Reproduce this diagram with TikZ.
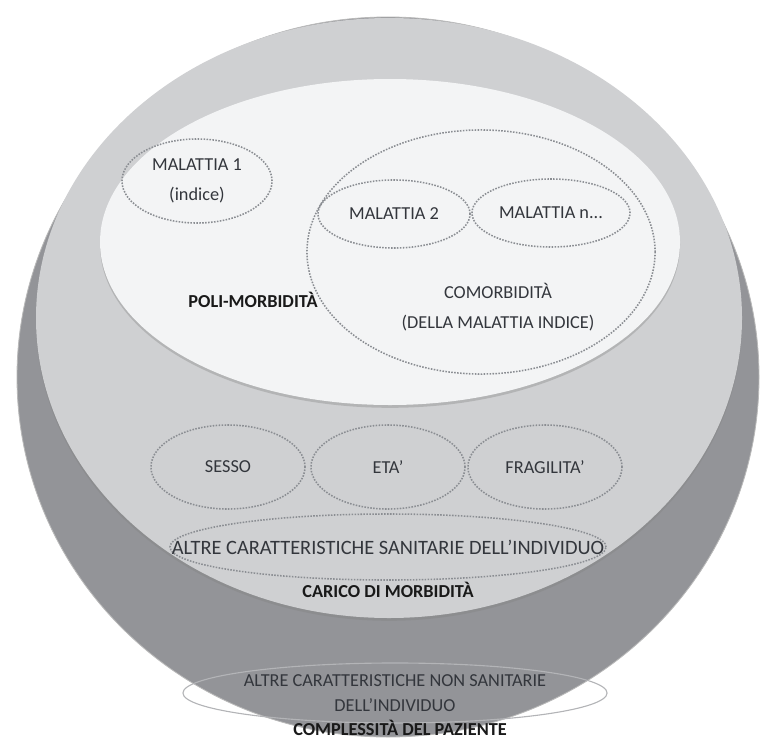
\documentclass[tikz,border=0pt]{standalone}
\usepackage{fontspec}
\setmainfont{Carlito}
\usepackage{tikz}
\usetikzlibrary{shapes.geometric,shadows}
\definecolor{outergray}{HTML}{939498}
\definecolor{midgray}{HTML}{CFD0D2}
\definecolor{innerwhite}{HTML}{F3F4F5}
\definecolor{dotgray}{HTML}{8A8D92}
\definecolor{txtgray}{HTML}{33363C}
\tikzset{
	every node/.style={font=\fontsize{13}{21}\selectfont, text=txtgray, align=center, inner sep=0pt},
	dotell/.style={ellipse, draw=dotgray, densely dotted, line width=1.1pt},
	ellsize/.style 2 args={minimum width=#1*0.05cm, minimum height=#2*0.05cm},
	title/.style={font=\fontsize{13}{16}\selectfont\bfseries, text=black!90},
	layer/.style={drop shadow={shadow xshift=0pt, shadow yshift=-2pt, opacity=0.35}},
}

\begin{document}
\begin{tikzpicture}[x=0.025cm, y=-0.025cm]
	\useasboundingbox (0,0) rectangle (760,742);

	\filldraw[fill=outergray, draw=gray!55, line width=0.6pt] (388,377) ellipse [x radius=371, y radius=360];
	\fill[midgray, layer] (389,318) ellipse [x radius=353, y radius=300];
	\fill[innerwhite, layer] (390,242) ellipse [x radius=290, y radius=163];

	\node[dotell, ellsize={174}{122}] (comorb) at (481,252) {};
	\node[dotell, ellsize={75}{42}] (mal1) at (197,181) {MALATTIA 1\\(indice)};
	\node[dotell, ellsize={76}{34}] (mal2) at (394,214) {MALATTIA 2};
	\node[dotell, ellsize={79}{34}] (maln) at (551,213) {MALATTIA n...};
	\node (comorbtxt) at (498,307) {COMORBIDITÀ\\(DELLA MALATTIA INDICE)};
	\node[title] (poli) at (253,300) {POLI-MORBIDITÀ};

	\node[dotell, ellsize={77}{42}] (sesso) at (228,467) {SESSO};
	\node[dotell, ellsize={77}{42}] (eta) at (388,467) {ETA'};
	\node[dotell, ellsize={77}{42}] (fragil) at (545,467) {FRAGILITA'};
	\node[dotell, ellsize={218}{33}] (sanit) at (388,547) {};
	\node[font=\fontsize{14.5}{18}\selectfont] (sanittxt) at (sanit.center) {ALTRE CARATTERISTICHE SANITARIE DELL’INDIVIDUO};
	\node[title] (carico) at (388,590) {CARICO DI MORBIDITÀ};

	\node[ellipse, draw=white!30!outergray, line width=0.8pt, ellsize={212}{30}] (nonsan) at (395,693) {};
	\node[font=\fontsize{13}{18}\selectfont] (nonsantxt) at (nonsan.center) {ALTRE CARATTERISTICHE NON SANITARIE\\DELL’INDIVIDUO};
	\node[title] (compl) at (400,728) {COMPLESSITÀ DEL PAZIENTE};
\end{tikzpicture}
\end{document}
